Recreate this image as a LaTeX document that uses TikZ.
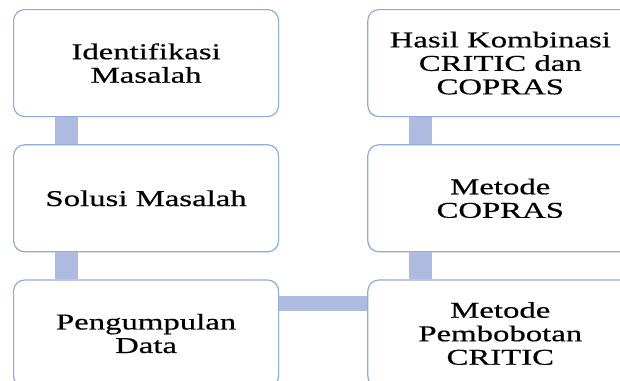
\documentclass[tikz,border=0pt]{standalone}
\usepackage{fontspec}
\setmainfont[FakeStretch=1.45, FakeBold=0.5]{Liberation Serif}
\usepackage{tikz}
\usetikzlibrary{positioning}
\definecolor{boxLine}{RGB}{143, 170, 220}
\definecolor{barFill}{RGB}{174, 186, 224}

\begin{document}
\begin{tikzpicture}[node distance=27pt,
    flowBox/.style={draw=boxLine, line width=1.2pt, rounded corners=11pt, fill=white,
      minimum width=265pt, minimum height=107pt, inner sep=0pt, align=center,
      font=\fontsize{22.6}{23.5}\selectfont},
    linkBar/.style={draw=barFill, line width=23pt}]
  \clip (0,0) rectangle (620pt,-380pt);

  % left column
  \node[flowBox, anchor=north west] (ident) at (13pt,-9pt) {Identifikasi\\Masalah};
  \node[flowBox, below=of ident] (solusi) {Solusi Masalah};
  \node[flowBox, below=of solusi] (data) {Pengumpulan\\Data};

  % right column
  \node[flowBox, right=88pt of ident] (hasil) {Hasil Kombinasi\\CRITIC dan\\COPRAS};
  \node[flowBox, right=88pt of solusi] (copras) {Metode\\COPRAS};
  \node[flowBox, right=88pt of data] (critic) {Metode\\Pembobotan\\CRITIC};

  \draw[linkBar] ([xshift=53.5pt]ident.south west) -- ([xshift=53.5pt]solusi.north west);
  \draw[linkBar] ([xshift=53.5pt]solusi.south west) -- ([xshift=53.5pt]data.north west);
  \draw[linkBar, line width=15pt] ([yshift=-24.5pt]data.north east) -- ([yshift=-24.5pt]critic.north west);
  \draw[linkBar] ([xshift=53.5pt]critic.north west) -- ([xshift=53.5pt]copras.south west);
  \draw[linkBar] ([xshift=53.5pt]copras.north west) -- ([xshift=53.5pt]hasil.south west);
\end{tikzpicture}
\end{document}
